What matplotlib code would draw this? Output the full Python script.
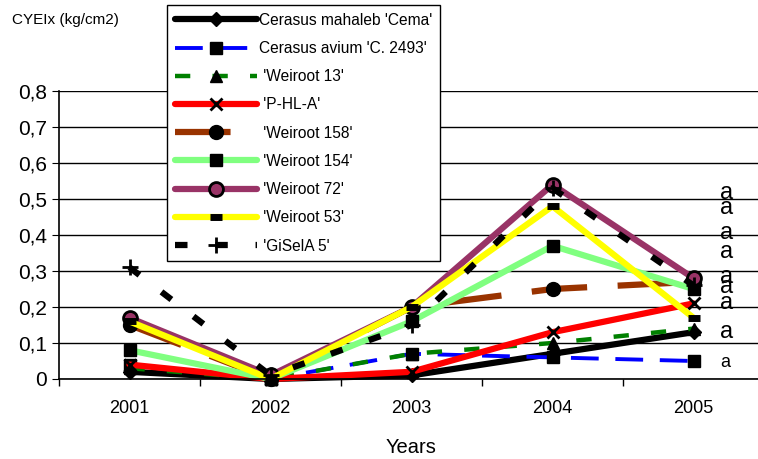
import numpy as np
import matplotlib.pyplot as plt
from matplotlib.ticker import FuncFormatter, FixedLocator

plt.rcParams['font.family'] = ['Liberation Sans', 'DejaVu Sans']
plt.rcParams['lines.scale_dashes'] = False

years = ['2001', '2002', '2003', '2004', '2005']

cema = [0.02, 0.0, 0.01, 0.07, 0.13]
avium = [0.04, 0.0, 0.07, 0.06, 0.05]
weiroot13 = [0.03, 0.0, 0.07, 0.10, 0.14]
phla = [0.04, 0.0, 0.02, 0.13, 0.21]
weiroot158 = [0.15, 0.0, 0.20, 0.25, 0.27]
weiroot154 = [0.08, 0.0, 0.16, 0.37, 0.25]
weiroot72 = [0.17, 0.01, 0.20, 0.54, 0.28]
weiroot53 = [0.16, 0.0, 0.20, 0.48, 0.17]
gisela5 = [0.31, 0.01, 0.15, 0.53, 0.26]

# significance letters next to the 2005 points
letter_y = [0.517, 0.475, 0.405, 0.353, 0.283, 0.256, 0.21, 0.13, 0.047]
letter_size = [17, 17, 17, 17, 17, 17, 17, 17, 13]

series = [
    ("Cerasus mahaleb 'Cema'", cema, dict(color='black', lw=4.5, ls='-', marker='D', ms=7)),
    ("Cerasus avium 'C. 2493'", avium, dict(color='#0000FF', lw=2.8, ls=(0, (20, 12)), marker='s', ms=9)),
    (" 'Weiroot 13'", weiroot13, dict(color='#008000', lw=3.2, ls=(0, (11, 16)), marker='^', ms=9)),
    (" 'P-HL-A'", phla, dict(color='#FF0000', lw=4.5, ls='-', marker='x', ms=9, mew=2)),
    (" 'Weiroot 158'", weiroot158, dict(color='#993300', lw=4.5, ls=(0, (40, 22)), marker='o', ms=10)),
    (" 'Weiroot 154'", weiroot154, dict(color='#80FF80', lw=4.5, ls='-', marker='s', ms=9)),
    (" 'Weiroot 72'", weiroot72, dict(color='#993366', lw=4.5, ls='-', marker='o', ms=10, mfc='#993366', mew=2)),
    (" 'Weiroot 53'", weiroot53, dict(color='#FFFF00', lw=4.5, ls='-', marker='_', ms=9, mew=5)),
    (" 'GiSelA 5'", gisela5, dict(color='black', lw=4.5, ls=(0, (9, 20)), marker='+', ms=11, mew=2)),
]

fig = plt.figure(figsize=(7.58, 4.59), dpi=100)
ax = fig.add_axes([59 / 758, 80 / 459, 705 / 758, 288 / 459])

x = np.arange(1, len(years) + 1)
handles = []
for label, vals, st in series:
    st = dict(st)
    st.setdefault('mfc', 'black')
    h, = ax.plot(x, vals, label=label, mec='black', solid_capstyle='round',
                 solid_joinstyle='round', dash_capstyle='butt', clip_on=False, **st)
    handles.append(h)

for yv, fs in zip(letter_y, letter_size):
    ax.text(5.19, yv, 'a', fontsize=fs, va='center', ha='left')

ax.set_xlim(0.5, 5.5)
ax.set_ylim(0, 0.8)
ax.set_xticks(x)
ax.set_xticklabels(years, fontsize=13)
ax.xaxis.set_minor_locator(FixedLocator(np.arange(0.5, 6, 1)))
ax.tick_params(axis='x', which='major', length=0, pad=15)
ax.tick_params(axis='x', which='minor', length=5, width=1, direction='out')
ax.set_yticks(np.arange(0, 0.81, 0.1))
ax.yaxis.set_major_formatter(FuncFormatter(lambda v, p: '0' if v == 0 else f'{v:.1f}'.replace('.', ',')))
ax.tick_params(axis='y', labelsize=15, length=5, direction='out')
ax.grid(axis='y', color='black', lw=1)
ax.set_axisbelow(True)
for s in ['top', 'right']:
    ax.spines[s].set_visible(False)
ax.spines['left'].set_linewidth(1.2)
ax.spines['bottom'].set_linewidth(1.2)

ax.set_xlabel('Years', fontsize=14.5, labelpad=15)
fig.text(12 / 758, 1 - 20 / 459, 'CYEIx (kg/cm2)', fontsize=11, va='center', ha='left')

leg = fig.legend(handles=handles, loc='upper left', bbox_to_anchor=(167 / 758, 1 - 5 / 459),
                 fontsize=11.2, numpoints=1, handlelength=5.3, handletextpad=0.1,
                 labelspacing=0.85, borderpad=0.5, borderaxespad=0, fancybox=False,
                 framealpha=1, edgecolor='black')
leg.get_frame().set_linewidth(1)

plt.savefig('out.png', dpi=100)
